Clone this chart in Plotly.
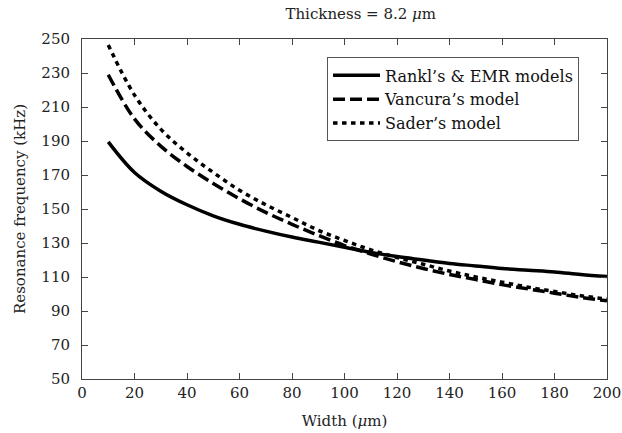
import plotly.graph_objects as go

widths = [10, 20, 30, 40, 50, 60, 70, 80, 90, 100, 110, 120, 130, 140, 150, 160, 170, 180, 190, 200]
rankl = [189.5, 171.5, 160.5, 152.5, 146, 141, 137, 133.5, 130.5, 127.5, 124.5, 122, 120, 118, 116.5, 115, 114, 113, 111.5, 110.3]
vancura = [229, 203, 187, 175, 165, 156, 148, 141, 134.5, 128.5, 123.5, 119, 115, 111.5, 108.5, 105.5, 103, 100.5, 98, 96]
sader = [246.5, 217, 197, 183, 171.5, 161, 152.5, 145, 137.5, 131.5, 126, 121.5, 117.5, 113.5, 110, 107, 104, 101.5, 99, 97]

x_ticks = list(range(0, 201, 20))
y_ticks = list(range(50, 251, 20))

FONT = "DejaVu Serif"

fig = go.Figure()
fig.add_trace(go.Scatter(x=widths, y=rankl, mode="lines", name="Rankl’s & EMR models",
                         line=dict(color="black", width=3.5, shape="spline")))
fig.add_trace(go.Scatter(x=widths, y=vancura, mode="lines", name="Vancura’s model",
                         line=dict(color="black", width=3.5, dash="12px,5px", shape="spline")))
fig.add_trace(go.Scatter(x=widths, y=sader, mode="lines", name="Sader’s model",
                         line=dict(color="black", width=3.5, dash="4.5px,4.5px", shape="spline")))

axis_common = dict(
    showgrid=False, zeroline=False, showline=True, linecolor="#444", linewidth=1,
    mirror="ticks", ticks="inside", ticklen=6, tickcolor="#444", tickwidth=1,
    tickfont=dict(family=FONT, size=15, color="#222"), automargin=False,
)

fig.update_layout(
    width=622, height=433,
    margin=dict(l=82, r=15, t=38.5, b=53.5),
    paper_bgcolor="white", plot_bgcolor="white",
    title=dict(text="Thickness = 8.2 <i>μ</i>m", x=0.58, xanchor="center", y=0.968, yanchor="middle",
               font=dict(family=FONT, size=15, color="#222")),
    xaxis=dict(range=[0, 200], tickvals=x_ticks, ticktext=[str(v) for v in x_ticks],
               title=dict(text="Width (<i>μ</i>m)", font=dict(family=FONT, size=15, color="#222"), standoff=14),
               **axis_common),
    yaxis=dict(range=[50, 250], tickvals=y_ticks, ticktext=[str(v) for v in y_ticks],
               ticklabelstandoff=8,
               title=dict(text="Resonance frequency (kHz)", font=dict(family=FONT, size=15, color="#222"), standoff=12),
               **axis_common),
    legend=dict(x=0.4667, y=0.9457, xanchor="left", yanchor="top",
                bordercolor="#555", borderwidth=1, bgcolor="white",
                font=dict(family=FONT, size=16, color="#111"),
                itemwidth=47, tracegroupgap=0),
    showlegend=True,
)

fig.write_html("out.html", config={"displayModeBar": False},
               post_script="document.body.style.margin='0px';document.body.style.padding='0px';")
